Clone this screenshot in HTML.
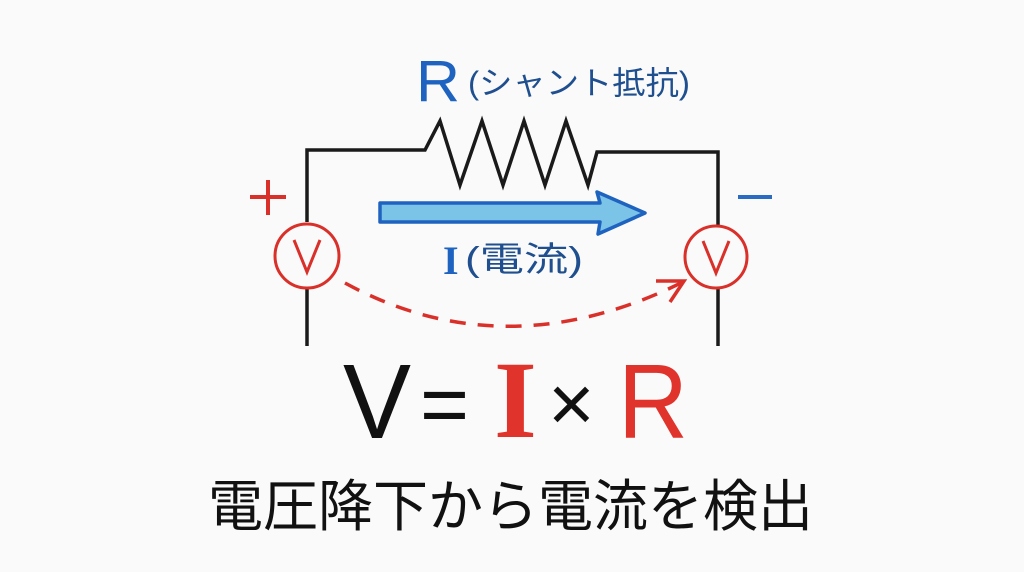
<!DOCTYPE html>
<html><head><meta charset="utf-8"><style>
html,body{margin:0;padding:0;background:#fafafa;}
svg{display:block}
text{font-family:"Liberation Sans","Noto Sans CJK JP",sans-serif;}
</style></head><body>
<svg width="1024" height="572" viewBox="0 0 1024 572" xmlns="http://www.w3.org/2000/svg">
<rect width="1024" height="572" fill="#fafafa"/>
<g fill="none" stroke="#1a1a1a" stroke-width="3.5" stroke-linejoin="miter">
<polyline points="307,222 307,150 425,150 440,121 460,185 482,121 503,185 524,121 545,185 566,121 588,185 597,152 718,152 718,225"/>
<line x1="307" y1="288" x2="307" y2="346"/>
<line x1="718" y1="289" x2="718" y2="346"/>
</g>
<g fill="none" stroke="#d9302a" stroke-width="3">
<circle cx="307" cy="256" r="32"/>
<circle cx="716" cy="257" r="31"/>
<polyline points="294,240 307,272 320,240"/>
<polyline points="703,241 716,273 729,241"/>
<line x1="250" y1="197" x2="286" y2="197" stroke-width="4"/>
<line x1="268" y1="180" x2="268" y2="215" stroke-width="4"/>
<path d="M345,283 Q505,370 683,282" stroke-dasharray="16,12" stroke-width="3.5"/>
<polyline points="656,281 684,281 670,302" stroke-width="3.5"/>
</g>
<line x1="738" y1="197" x2="772" y2="197" stroke="#2a6cc4" stroke-width="4"/>
<path d="M380,203 L600,203 L597,192 L645,213 L598,234 L600,222 L380,222 Z" fill="#7cc3e8" stroke="#1f63c0" stroke-width="3.5" stroke-linejoin="round"/>
<text x="416" y="101" font-size="58" fill="#1f63c0" textLength="44" lengthAdjust="spacingAndGlyphs">R</text>
<text x="468" y="94" font-size="32" fill="#1f4f8f" textLength="222" lengthAdjust="spacingAndGlyphs">(シャント抵抗)</text>
<text x="443" y="274" font-size="40" fill="#1f63c0" font-weight="bold" style="font-family:'Liberation Serif',serif">I</text>
<text x="465" y="271" font-size="34" fill="#1f4f8f" textLength="118" lengthAdjust="spacingAndGlyphs">(電流)</text>
<text x="343" y="438" font-size="106" fill="#111" textLength="68" lengthAdjust="spacingAndGlyphs">V</text>
<text x="420" y="433" font-size="84" fill="#111">=</text>
<text x="494" y="437" font-size="110" fill="#e0332b" font-weight="bold" style="font-family:'Liberation Serif',serif">I</text>
<text x="548" y="431" font-size="80" fill="#111">×</text>
<text x="618" y="438" font-size="106" fill="#e0332b" textLength="70" lengthAdjust="spacingAndGlyphs">R</text>
<text x="208" y="526" font-size="56" fill="#111" textLength="605" lengthAdjust="spacingAndGlyphs">電圧降下から電流を検出</text>
</svg>
</body></html>
